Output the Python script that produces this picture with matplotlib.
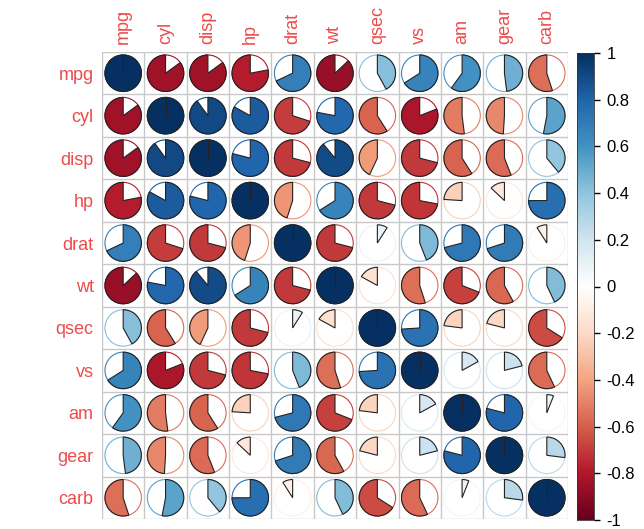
import numpy as np
import matplotlib
matplotlib.use("Agg")
import matplotlib.pyplot as plt
from matplotlib.patches import Wedge, Circle
from matplotlib.colors import LinearSegmentedColormap, Normalize

# variable names (mtcars)
names = ["mpg", "cyl", "disp", "hp", "drat", "wt", "qsec", "vs", "am", "gear", "carb"]

# correlation matrix, read row by row
r_mpg = [1.00, -0.85, -0.85, -0.78, 0.68, -0.87, 0.42, 0.66, 0.60, 0.48, -0.55]
r_cyl = [-0.85, 1.00, 0.90, 0.83, -0.70, 0.78, -0.59, -0.81, -0.52, -0.49, 0.53]
r_disp = [-0.85, 0.90, 1.00, 0.79, -0.71, 0.89, -0.43, -0.71, -0.59, -0.56, 0.39]
r_hp = [-0.78, 0.83, 0.79, 1.00, -0.45, 0.66, -0.71, -0.72, -0.24, -0.13, 0.75]
r_drat = [0.68, -0.70, -0.71, -0.45, 1.00, -0.71, 0.09, 0.44, 0.71, 0.70, -0.09]
r_wt = [-0.87, 0.78, 0.89, 0.66, -0.71, 1.00, -0.17, -0.55, -0.69, -0.58, 0.43]
r_qsec = [0.42, -0.59, -0.43, -0.71, 0.09, -0.17, 1.00, 0.74, -0.23, -0.21, -0.66]
r_vs = [0.66, -0.81, -0.71, -0.72, 0.44, -0.55, 0.74, 1.00, 0.17, 0.21, -0.57]
r_am = [0.60, -0.52, -0.59, -0.24, 0.71, -0.69, -0.23, 0.17, 1.00, 0.79, 0.06]
r_gear = [0.48, -0.49, -0.56, -0.13, 0.70, -0.58, -0.21, 0.21, 0.79, 1.00, 0.27]
r_carb = [-0.55, 0.53, 0.39, 0.75, -0.09, 0.43, -0.66, -0.57, 0.06, 0.27, 1.00]

cb_ticks = [-1, -0.8, -0.6, -0.4, -0.2, 0, 0.2, 0.4, 0.6, 0.8, 1]
cb_labels = ["-1", "-0.8", "-0.6", "-0.4", "-0.2", "0", "0.2", "0.4", "0.6", "0.8", "1"]

corr = np.array([r_mpg, r_cyl, r_disp, r_hp, r_drat, r_wt, r_qsec, r_vs, r_am, r_gear, r_carb])

col2 = ["#67001F", "#B2182B", "#D6604D", "#F4A582", "#FDDBC7", "#FFFFFF",
        "#D1E5F0", "#92C5DE", "#4393C3", "#2166AC", "#053061"]
cmap = LinearSegmentedColormap.from_list("rdbu", col2, N=200)
norm = Normalize(-1, 1)

plt.rcParams["font.family"] = ["Liberation Sans", "DejaVu Sans"]
label_col = "#EE4B4B"

W, H = 644, 529
fig = plt.figure(figsize=(W / 100, H / 100), dpi=100)

n = len(names)
ax = fig.add_axes([102 / W, (H - 519) / H, 466 / W, 467 / H])
ax.set_xlim(0, n)
ax.set_ylim(0, n)

# grid
for k in range(n + 1):
    ax.plot([k, k], [0, n], color="#C8C8C8", lw=1, zorder=1)
    ax.plot([0, n], [k, k], color="#C8C8C8", lw=1, zorder=1)

rad = 0.43
for i in range(n):
    for j in range(n):
        v = corr[i, j]
        cx, cy = j + 0.5, n - i - 0.5
        c = cmap(norm(v))
        ax.add_patch(Circle((cx, cy), rad, facecolor="none", edgecolor=c, lw=0.8, zorder=2))
        ang = 360 * abs(v)
        if v >= 0:
            t1, t2 = 90 - ang, 90
        else:
            t1, t2 = 90, 90 + ang
        ax.add_patch(Wedge((cx, cy), rad, t1, t2, facecolor=c, edgecolor="#222222", lw=0.8, zorder=3))
        if abs(v) >= 0.999:
            # full pie still shows its start edge
            ax.plot([cx, cx], [cy, cy + rad], color="#222222", lw=0.8, zorder=4)

ax.set_xticks(np.arange(n) + 0.5)
ax.set_xticklabels(names, rotation=90, color=label_col, fontsize=13)
ax.xaxis.tick_top()
ax.set_yticks(np.arange(n) + 0.5)
ax.set_yticklabels(names[::-1], color=label_col, fontsize=13)
ax.tick_params(length=0, pad=6)
for s in ax.spines.values():
    s.set_visible(False)

# colour legend
cax = fig.add_axes([577 / W, (H - 520) / H, 17 / W, 467 / H])
grad = np.linspace(-1, 1, 200).reshape(-1, 1)
cax.imshow(grad, cmap=cmap, norm=norm, aspect="auto", origin="lower", extent=(0, 1, -1, 1))
cax.set_xticks([])
cax.yaxis.tick_right()
cax.set_yticks(cb_ticks)
cax.set_yticklabels(cb_labels, fontsize=12)
cax.tick_params(axis="y", length=4, width=1, pad=5)
for s in cax.spines.values():
    s.set_linewidth(0.6)
    s.set_color("#333333")

fig.savefig("out.png", dpi=100)
